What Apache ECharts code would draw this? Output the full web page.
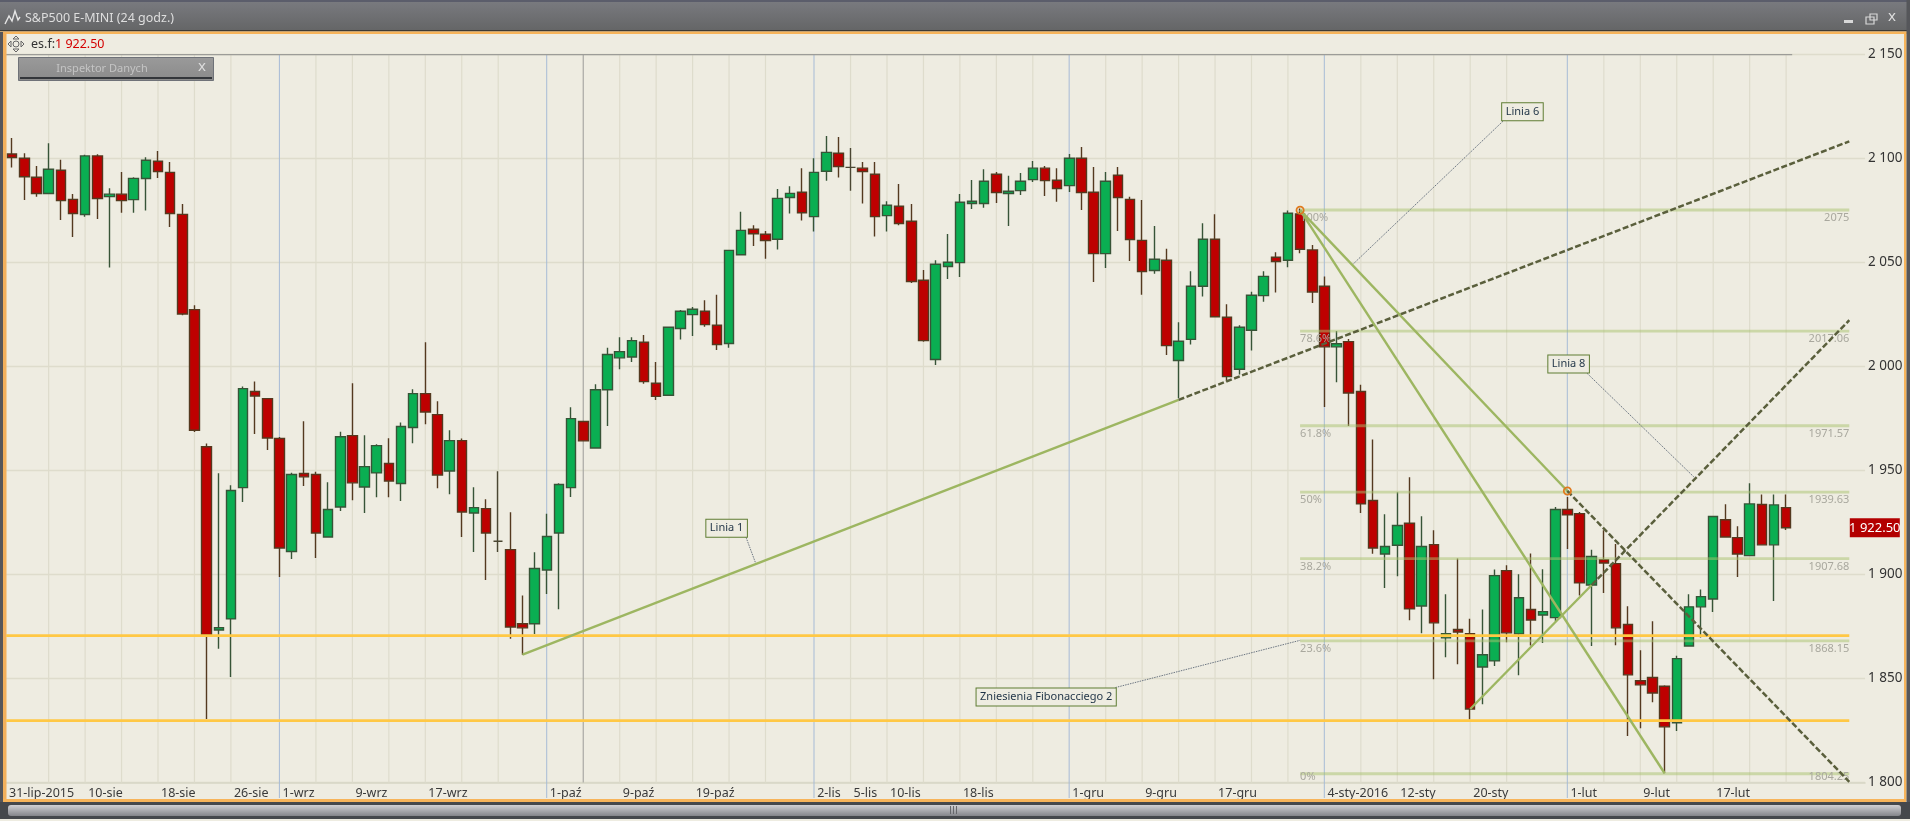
<!DOCTYPE html>
<html>
<head>
<meta charset="utf-8">
<style>html,body{margin:0;padding:0;background:#fff;overflow:hidden}#c{width:1910px;height:821px}</style>
<script src="https://cdn.jsdelivr.net/npm/echarts@6/dist/echarts.min.js"></script>
</head>
<body>
<div id="c"></div>
<script>
const opens=[2102.2,2100.2,2091,2083.2,2094.4,2080.4,2073.1,2101.3,2081.7,2082.9,
2080.3,2090.4,2098.7,2093.4,2073.2,2027.4,1961.5,1873.4,1878.7,1941.8,
1988,1984.6,1965.4,1911.1,1948.6,1948.1,1918.1,1932.5,1966.8,1942.1,
1948.9,1953.4,1943.8,1970.7,1987,1976.9,1949.8,1964.4,1929.6,1931.7,
1916,1912,1876.4,1876.4,1902.2,1920,1941.8,1973.6,1960.9,1988.9,
2004.2,2004.6,2011.7,1992,1986.2,2018.3,2025,2026.6,2019.9,2011.1,
2053.8,2066,2063.6,2061.2,2081.3,2083.8,2072.1,2093.9,2102.6,2095.8,
2095.4,2092.5,2072.6,2077.1,2069.9,2041.5,2003.4,2048.1,2050,2078.4,
2078.4,2092.5,2083.2,2084.6,2089.9,2095.4,2089.6,2087,2100.2,2083.8,
2054.3,2092,2080.4,2060.7,2046.2,2051.1,2002.9,2013.1,2038.6,2061.2,
2023.7,1998.7,2017.5,2034.1,2052.6,2051.1,2073.4,2056.1,2038.6,2009.5,
2012,1988,1935.6,1909.9,1914.1,1924.7,1884.9,1914.4,1869.6,1873.6,
1871.6,1855.6,1858.5,1901.9,1871.5,1883.2,1880.6,1879.3,1931.3,1929.3,
1895,1907.2,1905.3,1876,1849,1850.5,1846.3,1828.8,1865.7,1884.5,
1888.3,1926.4,1917.8,1909.1,1933.7,1914.3,1932.2];
const closes=[2100.5,2091.3,2083.2,2094.9,2079.8,2073.6,2101.3,2080.8,2082.9,2079.8,
2090.5,2099.2,2093.8,2073.6,2025.3,1969.4,1871,1874.5,1940.4,1989.4,
1985.9,1965.7,1912.8,1948.1,1947,1920,1931.3,1966.3,1944.1,1951.9,
1962,1945,1971.2,1987,1978.2,1947.9,1964.4,1930.1,1932.2,1920,
1916,1874.8,1874.4,1902.9,1918.3,1943.3,1975,1964.3,1988.9,2005.8,
2007.2,2012.5,1992.8,1985.7,2018.9,2026.6,2027.6,2020.2,2010.6,2055.9,
2065.5,2063.9,2060.6,2080.9,2083.3,2074,2093.4,2103,2096.2,2095.8,
2093.8,2072.1,2077.6,2068.8,2040.9,2012.5,2049.2,2050.2,2079,2079.5,
2089.1,2083.7,2084.3,2089.1,2095.4,2089.4,2085.6,2100.2,2083.7,2054.3,
2089.1,2081.3,2061.1,2045.7,2051.6,2010.1,2012.2,2038.6,2061.2,2024,
1995.2,2018.9,2034.3,2043.4,2050.5,2073.7,2056.4,2035.9,2009.5,2011,
1987.3,1934,1912.8,1913.5,1923.6,1883.5,1913.5,1876.8,1871.6,1872.4,
1835.4,1861.5,1899.5,1872,1888.9,1878.2,1882.2,1931.3,1928.7,1896,
1908.7,1905.6,1874.4,1851.8,1847,1843.1,1826.8,1859.6,1884.5,1889.4,
1927.9,1918.1,1909.9,1934,1914.3,1933.5,1922.5];
const lows=[2095.7,2080.1,2081.7,2083,2070.5,2062.3,2072,2071,2047.6,2074,
2074,2075,2090.7,2067.1,2024.7,1968.6,1830.6,1864.3,1850.8,1934.9,
1967.6,1959.9,1898.9,1907.5,1942.6,1908,1918,1930.6,1935.7,1929.6,
1937.2,1937.2,1935.4,1963.1,1972.3,1941.5,1938.6,1918.1,1910.9,1897.4,
1910.9,1869.1,1861.5,1871.5,1890.7,1883.3,1937.3,1964.3,1960.9,1971.5,
1998.7,2002.2,1991.8,1984,1986.2,2013,2014.7,2019.1,2008,2009.1,
2053.8,2058,2051.8,2056.3,2073.6,2070.2,2064.9,2089.4,2090.9,2084.6,
2078.4,2062.5,2064.9,2067.9,2040.2,2011.9,2000.8,2042.1,2043.1,2075.8,
2076.4,2078.7,2067.6,2082.5,2088.8,2082,2079.2,2084,2075.3,2040.7,
2047.4,2065.2,2050.8,2034.5,2044.6,2005.6,1984.8,2010.6,2033.7,2024,
1992.8,1996.2,2007.7,2031.2,2035.6,2047.8,2054.5,2030.6,1980.6,1992.5,
1971.5,1929.6,1910,1893.6,1899.2,1878,1871.8,1849.7,1860.3,1856.9,
1830.3,1837.7,1856.1,1867.5,1851.6,1865.9,1867.1,1877.6,1912.3,1890,
1865.7,1891.2,1866,1822.4,1826.1,1838.6,1804.5,1824.8,1865.7,1869.7,
1882,1918.1,1898.9,1909.1,1914.3,1887.3,1921.5];
const highs=[2109.9,2102.6,2096.5,2107.4,2099.4,2083,2101.8,2102.1,2085.7,2093.6,
2091,2100.6,2103.7,2098.4,2078.2,2029.5,1963,1948.7,1943,1990.4,
1992.8,1984.6,1966.2,1949,1973.7,1949.4,1944.4,1968.7,1992,1967,
1962.7,1965.5,1973.1,1989.1,2011.7,1983.3,1969.4,1965.4,1942,1936.2,
1949.7,1930,1890,1910.7,1929.3,1943.9,1980.4,1973.6,1991.5,2009.1,
2014.1,2014.1,2015.2,2002.2,2019.2,2027.2,2028.7,2031.9,2034.5,2055.9,
2074.4,2067.9,2065.2,2085.4,2086.7,2095.4,2100.2,2110.9,2110.4,2105.1,
2098.4,2098.4,2079.5,2087.8,2078.2,2046.5,2051.1,2063.8,2083,2089.7,
2094.9,2093.6,2091.7,2093.1,2098.9,2096.5,2095.4,2102.2,2105.6,2096,
2093.6,2096,2081.7,2080.1,2067.6,2056.6,2021.3,2045.8,2068.9,2073.2,
2030,2019.9,2036,2045.8,2055,2075,2076,2058.5,2043.3,2017.1,
2013.3,1991.3,1964.9,1929,1939.6,1946.8,1928,1921.3,1890.5,1907.7,
1878.8,1883.2,1902.4,1904.5,1900.2,1910.1,1902.6,1932.5,1937.3,1930.1,
1912,1921.3,1914.7,1884.8,1863.6,1877.6,1846.8,1861,1890.5,1892.8,
1927.9,1933.8,1923.2,1943.9,1938.5,1938.5,1938.5];

const labelIdx=[0,6,12,18,22,28,34,44,50,56,66,69,72,78,87,93,99,108,114,120,128,134,140];
const labelTxt=['31-lip-2015','10-sie','18-sie','26-sie','1-wrz','9-wrz','17-wrz','1-paź','9-paź','19-paź','2-lis','5-lis','10-lis','18-lis','1-gru','9-gru','17-gru','4-sty-2016','12-sty','20-sty','1-lut','9-lut','17-lut'];
const gridIdx=[3,6,9,12,15,18,22,25,28,31,34,37,40,44,47,50,53,56,59,62,66,69,72,75,78,81,84,87,90,93,96,99,102,105,108,111,114,117,120,123,128,131,134,137,140,143,146];
const blueIdx=[22,44,66,87,108,128];
const grayIdx=[47];
const yTicks=[1800,1850,1900,1950,2000,2050,2100,2150];
const yLabels=['1 800','1 850','1 900','1 950','2 000','2 050','2 100','2 150'];
const fibLevels=[2075.3,2017.06,1971.57,1939.63,1907.68,1868.15,1804.25];
const fibPct=['100%','78.6%','61.8%','50%','38.2%','23.6%','0%'];
const fibVal=['2075','2017.06','1971.57','1939.63','1907.68','1868.15','1804.25'];
const lastPrice=1922.5;
const levelA=1870.7, levelB=1829.8;
const xEnd=151.2;
const line1Solid=[[42,1861.5],[96,1984]];
const line1Dash=[[96,1984],[xEnd,2108.3]];
const line2Solid=[[106,2075.2],[128,1940.2]];
const line2Dash=[[128,1940.2],[xEnd,1800.4]];
const line3Solid=[[106,2075.2],[136,1804.5]];
const line4Solid=[[120,1835.4],[130,1895]];
const line4Dash=[[130,1895],[xEnd,2022.3]];
const anchors=[[106,2075.2],[128,1940.2]];
const notes=[['Linia 1',58.8,1922.3],['Linia 6',124.3,2122.5],['Linia 8',128.1,2001.3],['Zniesienia Fibonacciego 2',85.1,1841.2]];
const leaders=[[60.4,1917.9,61.2,1905.3],[122.7,2118,110.4,2049.5],[129.6,1996.9,138.4,1947],[90.8,1845.7,106,1868.4]];

const FONT='"Noto Sans", sans-serif';
const GREEN='#9DB661', DARK='#5A5F3C', ORANGE='#FFC845', BG='#EEECE1';
const cats=Array.from({length:153},(_,i)=>String(i));
const ohlc=opens.map((o,i)=>[o,closes[i],lows[i],highs[i]]);

function lineS(data,color,w,dash,z){
  return {type:'line',xAxisIndex:1,yAxisIndex:0,data,symbol:'none',silent:true,z:z||6,animation:false,
    lineStyle:{color,width:w,type:dash?[6,2.5]:'solid',cap:'butt'}};
}
const vg=(x,y1,y2,stroke,w)=>({type:'rect',shape:{x,y:y1,width:w,height:y2-y1},style:{fill:stroke},silent:true});
const txt=(x,y,text,fill,size,z,align)=>({type:'text',x,y,z:z||10,silent:true,style:{text,fill,font:`${size}px ${FONT}`,align:align||'left',verticalAlign:'middle'}});
const grad=(a,b)=>({type:'linear',x:0,y:0,x2:0,y2:1,colorStops:[{offset:0,color:a},{offset:1,color:b}]});

const chrome=[
  {type:'rect',z:1,shape:{x:0,y:0,width:1910,height:31},style:{fill:grad('#7a7b80','#646566')}},
  {type:'rect',z:1,shape:{x:0,y:0,width:1910,height:2},style:{fill:'#5b5d6b'}},
  {type:'rect',z:2,shape:{x:0,y:30,width:1910,height:1.5},style:{fill:'#3d3a34'}},
  {type:'rect',z:2,shape:{x:0,y:31.5,width:1910,height:2.5},style:{fill:'#F7B45A'}},
  {type:'rect',z:2,shape:{x:0,y:32,width:3,height:771},style:{fill:'#55565a'}},
  {type:'rect',z:2,shape:{x:3,y:32,width:3.5,height:769},style:{fill:'#F2B05C'}},
  {type:'rect',z:2,shape:{x:1904,y:32,width:2.5,height:769},style:{fill:'#F7B45A'}},
  {type:'rect',z:2,shape:{x:1906.5,y:0,width:3.5,height:818},style:{fill:'#55565a'}},
  {type:'rect',z:2,shape:{x:3,y:799,width:1903,height:3},style:{fill:'#F7B45A'}},
  {type:'rect',z:2,shape:{x:0,y:802,width:1910,height:17},style:{fill:'#45484c'}},
  {type:'rect',z:3,shape:{x:8,y:805,width:1893,height:11,r:3},style:{fill:grad('#d0d0d4','#84858a')}},
  {type:'rect',z:4,shape:{x:950,y:806,width:1,height:8},style:{fill:'#66676b'}},
  {type:'rect',z:4,shape:{x:953,y:806,width:1,height:8},style:{fill:'#66676b'}},
  {type:'rect',z:4,shape:{x:956,y:806,width:1,height:8},style:{fill:'#66676b'}},
  {type:'polyline',z:4,shape:{points:[[5,24],[9,16],[12,21],[15,11],[18,20],[20,17]]},style:{stroke:'#e6e6e6',fill:null,lineWidth:1.4}},
  txt(25,18.5,'S&P500 E-MINI (24 godz.)','#dedede',12.5),
  {type:'rect',z:4,shape:{x:1844,y:20,width:9,height:3},style:{fill:'#d8d8d8'}},
  {type:'rect',z:4,shape:{x:1866,y:17,width:8,height:7},style:{fill:'none',stroke:'#d8d8d8',lineWidth:1.2}},
  {type:'rect',z:4,shape:{x:1870,y:14,width:7,height:6},style:{fill:'none',stroke:'#d8d8d8',lineWidth:1.2}},
  txt(1892,17,'x','#dedede',15,10,'center'),
  {type:'circle',z:4,shape:{cx:16,cy:44,r:3},style:{fill:'none',stroke:'#666',lineWidth:1}},
  {type:'polygon',z:4,shape:{points:[[16,36],[13,39],[19,39]]},style:{fill:'none',stroke:'#666'}},
  {type:'polygon',z:4,shape:{points:[[16,52],[13,49],[19,49]]},style:{fill:'none',stroke:'#666'}},
  {type:'polygon',z:4,shape:{points:[[8,44],[11,41],[11,47]]},style:{fill:'none',stroke:'#666'}},
  {type:'polygon',z:4,shape:{points:[[24,44],[21,41],[21,47]]},style:{fill:'none',stroke:'#666'}},
  txt(31,44,'es.f:','#333',12.5),
  txt(55,44,'1 922.50','#D40000',12.5),
  {type:'rect',z:20,shape:{x:18.5,y:57.5,width:195,height:23},style:{fill:grad('#9a9a9a','#8a8a8a'),stroke:'#6f7278',lineWidth:1}},
  {type:'rect',z:21,shape:{x:20,y:77,width:192,height:2},style:{fill:'#33363a'}},
  txt(102,69,'Inspektor Danych','#c4c4c4',11,22,'center'),
  txt(202,67,'x','#dcdcdc',15,22,'center')
];

const option={
  animation:false,
  backgroundColor:BG,
  textStyle:{fontFamily:FONT},
  grid:{left:6.13,width:1858.95,top:54.6,height:728,containLabel:false},
  xAxis:[
    {type:'category',data:cats,show:false,boundaryGap:true},
    {type:'value',min:-0.5,max:152.5,position:'bottom',
      axisLine:{show:true,lineStyle:{color:'#D8D6C6',width:1.5}},axisTick:{show:false},splitLine:{show:false},
      axisLabel:{show:true,color:'#3a3a3a',fontFamily:FONT,fontSize:12.5,align:'left',margin:4,verticalAlign:'top',
        customValues:labelIdx.map((v,k)=>k===0?-0.26:v+0.25),
        formatter:v=>labelTxt[labelIdx.indexOf(Math.round(v))]||''}}
  ],
  yAxis:[{type:'value',min:1800,max:2150,interval:50,position:'right',scale:false,
    axisLine:{show:false},axisTick:{show:false},
    splitLine:{show:true,lineStyle:{color:'#DEDCCC',width:1.3}},
    axisLabel:{color:'#333',fontFamily:FONT,fontSize:13.5,margin:3,padding:[2,0,0,0],formatter:v=>yLabels[yTicks.indexOf(v)]}}],
  graphic:{elements:chrome},
  series:[
    {type:'custom',xAxisIndex:1,yAxisIndex:0,z:1,silent:true,clip:false,
      data:gridIdx.map(i=>[i,2150]),encode:{x:0,y:1},
      renderItem(p,api){
        const i=api.value(0);const t=api.coord([i,2150]);const b=api.coord([i,1800]);
        const blue=blueIdx.includes(i),gray=grayIdx.includes(i);
        return vg(t[0]-0.6,t[1],b[1]+(blue?15.5:0),blue?'#A6BBD6':gray?'#A8A8A4':'#DEDCCC',blue?1:1.2);
      }},
    {type:'custom',xAxisIndex:1,yAxisIndex:0,z:1,silent:true,clip:false,
      data:[[-0.5,2150]],encode:{x:0,y:1},
      renderItem(p,api){
        const a=api.coord([-0.5,2150]),b=api.coord([146.5,2150]);
        return vg(a[0],a[1]-0.7,a[1]+0.7,'#9c9c98',b[0]-a[0]);
      }},
    {type:'candlestick',xAxisIndex:0,yAxisIndex:0,z:3,barWidth:10,silent:true,data:ohlc,
      itemStyle:{color:'#0AAE52',color0:'#BE0000',borderColor:'#375437',borderColor0:'#54391F',borderColorDoji:'#4A4632',borderWidth:1.4}},
    lineS([[-0.5,levelA],[xEnd,levelA]],ORANGE,2.8,false,4),
    lineS([[-0.5,levelB],[xEnd,levelB]],ORANGE,2.8,false,4),
    {type:'custom',xAxisIndex:1,yAxisIndex:0,z:5,silent:true,clip:false,
      data:fibLevels.map((v,k)=>[k,v]),encode:{x:0,y:1},
      renderItem(p,api){
        const k=api.value(0),v=api.value(1);
        const a=api.coord([106,v]),b=api.coord([xEnd,v]);
        const below=Math.min(a[1]+8,777);
        return {type:'group',children:[
          {type:'rect',shape:{x:a[0],y:a[1]-1.4,width:b[0]-a[0],height:2.8},style:{fill:'rgba(168,194,110,0.5)'}},
          {type:'text',x:a[0],y:below,style:{text:fibPct[k],fill:'#A9A89E',font:`11px ${FONT}`,align:'left',verticalAlign:'middle'}},
          {type:'text',x:b[0],y:below,style:{text:fibVal[k],fill:'#A9A89E',font:`11px ${FONT}`,align:'right',verticalAlign:'middle'}}
        ]};
      }},
    {type:'custom',xAxisIndex:1,yAxisIndex:0,z:5,silent:true,clip:false,
      data:leaders,encode:{x:0,y:1},
      renderItem(p,api){
        const a=api.coord([api.value(0),api.value(1)]),b=api.coord([api.value(2),api.value(3)]);
        return {type:'line',shape:{x1:a[0],y1:a[1],x2:b[0],y2:b[1]},style:{stroke:'#6C7682',lineWidth:1,lineDash:[1.5,1]}};
      }},
    lineS(line1Solid,GREEN,2.4),lineS(line1Dash,DARK,2.5,true),
    lineS(line2Solid,GREEN,2.4),lineS(line2Dash,DARK,2.5,true),
    lineS(line3Solid,GREEN,2.4),
    lineS(line4Solid,GREEN,2.4),lineS(line4Dash,DARK,2.5,true),
    {type:'custom',xAxisIndex:1,yAxisIndex:0,z:7,silent:true,clip:false,
      data:anchors,encode:{x:0,y:1},
      renderItem(p,api){
        const c=api.coord([api.value(0),api.value(1)]);
        return {type:'circle',shape:{cx:c[0],cy:c[1],r:3.6},style:{fill:'none',stroke:'#E07A1E',lineWidth:1.8}};
      }},
    {type:'custom',xAxisIndex:1,yAxisIndex:0,z:8,silent:true,clip:false,
      data:notes.map((n,k)=>[n[1],n[2],k]),encode:{x:0,y:1},
      renderItem(p,api){
        const c=api.coord([api.value(0),api.value(1)]);
        return {type:'text',x:c[0],y:c[1],style:{text:notes[api.value(2)][0],fill:'#1F3346',font:`11px ${FONT}`,align:'center',verticalAlign:'middle',
          backgroundColor:BG,borderColor:'#5F7D33',borderWidth:1,padding:[3,3.5,3,3.5]}};
      }},
    {type:'custom',xAxisIndex:1,yAxisIndex:0,z:8,silent:true,clip:false,
      data:[[153.3,lastPrice]],encode:{x:0,y:1},
      renderItem(p,api){
        const c=api.coord([api.value(0),api.value(1)]);
        return {type:'group',children:[
          {type:'rect',shape:{x:c[0]-25,y:c[1]-9.5,width:50,height:19},style:{fill:'#B30000'}},
          {type:'text',x:c[0],y:c[1]+0.5,style:{text:'1 922.50',fill:'#fff',font:`13px ${FONT}`,align:'center',verticalAlign:'middle'}}
        ]};
      }}
  ]
};
echarts.init(document.getElementById('c'),null,{renderer:'canvas'}).setOption(option);
</script>
</body>
</html>
